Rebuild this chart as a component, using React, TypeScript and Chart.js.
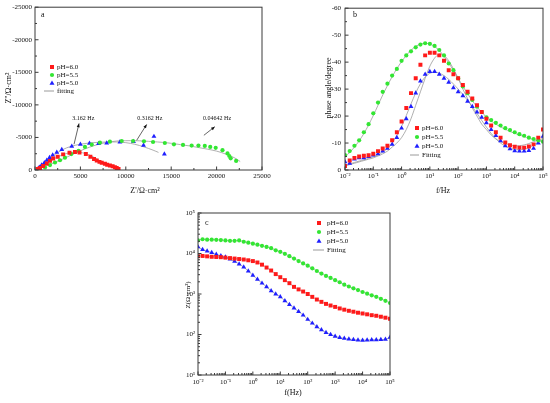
import { useEffect, useRef } from "react";
import { Chart, registerables } from "chart.js";

Chart.register(...registerables);

const SERIF = "'Liberation Serif', 'Times New Roman', serif";
const RED = "#ff1a1a";
const GREEN = "#33e633";
const BLUE = "#1f1fff";
const FIT = "#9a9a9a";

// ---- panel a: Nyquist (Z' , Z'') ----
const A_RED_RE = [300, 550, 900, 1300, 1650, 2000, 2500, 3100, 3800, 4400, 4900, 5600, 6100, 6500, 6800, 7100, 7350, 7700, 7950, 8250, 8550, 8800, 9000, 9200];
const A_RED_IM = [-150, -300, -600, -1000, -1400, -1750, -2050, -2400, -2650, -2750, -2700, -2450, -2050, -1700, -1450, -1250, -1100, -950, -800, -680, -560, -420, -300, -150];
const A_GREEN_RE = [300, 550, 1100, 1650, 2200, 2750, 3300, 4000, 4800, 5500, 6250, 7150, 8250, 9550, 10800, 12000, 13000, 14300, 15300, 16300, 17250, 18000, 18700, 19300, 19900, 20650, 21200, 21400, 21550, 22150];
const A_GREEN_IM = [-50, -100, -400, -750, -1150, -1500, -1900, -2450, -2950, -3550, -3900, -4200, -4350, -4450, -4450, -4400, -4300, -4150, -3950, -3850, -3750, -3750, -3700, -3550, -3400, -3050, -2550, -2150, -1800, -1400];
const A_BLUE_RE = [250, 470, 730, 1030, 1300, 1600, 1950, 2400, 2950, 4050, 5000, 6000, 7000, 7900, 9350, 10850, 11950, 13100, 14250];
const A_BLUE_IM = [-150, -400, -750, -1100, -1500, -1900, -2300, -2700, -3150, -3650, -3950, -4100, -4050, -4150, -4300, -4350, -3800, -5150, -2450];

const A_FIT_RED_RE = [0, 500, 1000, 1500, 2000, 2500, 3000, 3500, 4000, 4500, 5000, 5500, 6000, 6500, 7000, 7500, 8000, 8500, 9000];
const A_FIT_RED_IM = [0, -400, -850, -1250, -1650, -2000, -2300, -2550, -2700, -2750, -2700, -2550, -2300, -1950, -1550, -1150, -800, -500, -200];
const A_FIT_GREEN_RE = [0, 1000, 2000, 3000, 4000, 5000, 6000, 7000, 8000, 9000, 10000, 11000, 12000, 13000, 14000, 15000, 16000, 17000, 18000, 19000, 20000, 21000, 22000, 22600];
const A_FIT_GREEN_IM = [0, -500, -1050, -1650, -2300, -2950, -3500, -3950, -4250, -4450, -4500, -4500, -4450, -4350, -4250, -4100, -3900, -3700, -3450, -3200, -2900, -2450, -1850, -1300];
const A_FIT_BLUE_RE = [0, 500, 1000, 1500, 2000, 3000, 4000, 5000, 6000, 7000, 8000, 9000, 10000, 11000, 12000, 13000, 13600];
const A_FIT_BLUE_IM = [0, -550, -1100, -1650, -2200, -3100, -3650, -3950, -4150, -4250, -4300, -4300, -4200, -3950, -3550, -3050, -2700];

const A_X_TICKS = [0, 5000, 10000, 15000, 20000, 25000];
const A_Y_TICKS = [-25000, -20000, -15000, -10000, -5000, 0];

const A_NOTES = [
  { text: "3.162 Hz", x: 5320, y: -7900, tail: [4300, -3960], head: [4850, -7150] },
  { text: "0.3162 Hz", x: 12650, y: -7900, tail: [11200, -4570], head: [12300, -7000] },
  { text: "0.04642 Hz", x: 20050, y: -7900, tail: [18600, -5330], head: [19800, -6650] },
];

// ---- panels b and c: Bode, shared frequencies ----
const FREQ = [0.01, 0.01468, 0.02154, 0.03162, 0.04642, 0.06813, 0.1, 0.1468, 0.2154, 0.3162, 0.4642, 0.6813, 1, 1.468, 2.154, 3.162, 4.642, 6.813, 10, 14.68, 21.54, 31.62, 46.42, 68.13, 100, 146.8, 215.4, 316.2, 464.2, 681.3, 1000, 1468, 2154, 3162, 4642, 6813, 10000, 14680, 21540, 31620, 46420, 68130, 100000];

const PHASE_RED = [-1.5, -3.5, -4.5, -5, -5.3, -5.5, -6, -7, -8, -9, -11, -14, -18, -23, -28.5, -34, -39, -42.5, -43.5, -43.5, -42.5, -40.5, -37, -35.5, -34, -31.5, -29, -26.5, -24, -21.5, -19, -16.5, -14, -12, -10.2, -9.2, -8.6, -8.3, -8.3, -8.7, -9.5, -12, -15];
const PHASE_GREEN = [-5.5, -7, -9, -11, -14, -17, -21, -25, -29, -32, -35, -37.5, -40.5, -42.5, -44, -45.5, -46.5, -47, -46.8, -46, -44.5, -42.5, -39.5, -37, -34, -31, -28.5, -26, -23.5, -21.5, -19.5, -18.5, -17.5, -16.5, -15.5, -14.8, -14, -13.3, -12.7, -12, -11.5, -11, -10.5];
const PHASE_BLUE = [-3, -2.5, -4, -4.5, -4.5, -5, -5.5, -6, -7, -8, -9.5, -12, -15.5, -19, -23.5, -28.5, -33, -35.5, -36.5, -36.5, -35.5, -34, -32.5, -30.5, -29, -27.5, -25.5, -23.5, -21.5, -19.5, -17.5, -15, -12.8, -10.8, -9, -7.8, -7.1, -7, -7, -7.2, -8, -10, -12.5];

const PHASE_FIT_RED = [-1.5, -2, -2.5, -3, -3.5, -4, -4.5, -5.2, -6, -7, -8.5, -10, -12, -15, -19, -24, -29, -34, -38.5, -41.5, -43, -42.5, -40.5, -37.5, -34, -30, -26.5, -23, -20, -17, -15, -13, -11.5, -10.5, -9.8, -9.3, -9, -9, -9.3, -9.8, -10.5, -11, -11];
const PHASE_FIT_GREEN = [-5, -6.5, -8.5, -10.8, -13.5, -16.7, -20.2, -24, -27.8, -31.3, -34.6, -37.6, -40.2, -42.5, -44.4, -45.8, -46.7, -47, -46.7, -45.8, -44.3, -42.2, -39.7, -36.9, -34, -31.1, -28.3, -25.7, -23.4, -21.4, -19.6, -18.2, -17, -16, -15.1, -14.3, -13.6, -13, -12.4, -11.8, -11.3, -10.8, -10.3];
const PHASE_FIT_BLUE = [-1.5, -2.2, -2.8, -3.3, -3.8, -4.3, -4.9, -5.6, -6.6, -8, -10, -12.8, -16.2, -20.2, -24.5, -28.6, -32, -34.5, -35.9, -36.3, -35.9, -35, -33.6, -31.9, -30, -28, -25.8, -23.5, -21, -18.4, -15.9, -13.6, -11.6, -10, -8.8, -8, -7.6, -7.5, -7.7, -8.3, -9.2, -10.5, -12];

const MOD_RED = [8600, 8700, 8500, 8300, 8200, 8100, 7900, 7700, 7500, 7300, 7100, 6800, 6500, 6000, 5300, 4500, 3800, 3100, 2600, 2200, 1850, 1500, 1300, 1150, 1000, 850, 730, 640, 570, 520, 480, 440, 410, 385, 365, 345, 330, 315, 300, 290, 275, 260, 245];
const MOD_GREEN = [21000, 22500, 22000, 22000, 21800, 21500, 21000, 20500, 20500, 21000, 19500, 18500, 17500, 16500, 15500, 14500, 13500, 12000, 11000, 9800, 8600, 7500, 6500, 5700, 5000, 4300, 3700, 3200, 2800, 2500, 2200, 1950, 1700, 1530, 1380, 1250, 1120, 1020, 930, 850, 760, 680, 600];
const MOD_BLUE = [14500, 12500, 11500, 10500, 9500, 8800, 8200, 7300, 6400, 5500, 4600, 3700, 2900, 2300, 1850, 1500, 1200, 1000, 850, 680, 550, 450, 370, 300, 235, 190, 155, 130, 112, 100, 90, 84, 80, 77, 75, 73, 72, 73, 74, 74, 75, 76, 85];

const LOG_F_TICKS = [0.01, 0.1, 1, 10, 100, 1000, 10000, 100000];
const PHASE_TICKS = [-60, -50, -40, -30, -20, -10, 0];
const MOD_TICKS = [10, 100, 1000, 10000, 100000];

const SUP: Record<string, string> = { "-": "⁻", "0": "⁰", "1": "¹", "2": "²", "3": "³", "4": "⁴", "5": "⁵" };
const pow10 = (v: number) => "10" + String(Math.round(Math.log10(v))).split("").map((c) => SUP[c]).join("");

const logMinor = (lo: number, hi: number) => {
  const out: number[] = [];
  for (let d = lo; d < hi; d++) for (let k = 2; k <= 9; k++) out.push(k * Math.pow(10, d));
  return out;
};
const pairs = (xs: number[], ys: number[]) => xs.map((x, i) => ({ x, y: ys[i] }));

type Shape = "rect" | "circle" | "triangle" | "line";
interface Item { label: string; color: string; shape: Shape }
interface Txt { t: string; x: number; y: number; size: number; rotate?: boolean; align?: CanvasTextAlign }
interface Deco {
  xMinor: number[];
  yMinor: number[];
  texts: Txt[];
  legend: { mx: number; tx: number; y0: number; gap: number; line: [number, number] };
  items: Item[];
  notes?: typeof A_NOTES;
}

function marker(ctx: CanvasRenderingContext2D, shape: Shape, color: string, x: number, y: number) {
  ctx.fillStyle = color;
  ctx.beginPath();
  if (shape === "rect") ctx.rect(x - 2, y - 2, 4, 4);
  else if (shape === "circle") ctx.arc(x, y, 2.1, 0, Math.PI * 2);
  else {
    ctx.moveTo(x, y - 2.6);
    ctx.lineTo(x + 2.5, y + 1.7);
    ctx.lineTo(x - 2.5, y + 1.7);
    ctx.closePath();
  }
  ctx.fill();
}

function decoPlugin(d: Deco) {
  return {
    id: "deco",
    afterDraw(chart: any) {
      const { ctx, chartArea: a, scales } = chart;
      const xs = scales.x;
      const ys = scales.y;
      ctx.save();
      ctx.strokeStyle = "#3a3a3a";
      ctx.lineWidth = 1;
      ctx.strokeRect(a.left, a.top, a.right - a.left, a.bottom - a.top);

      // inward ticks, bottom and left
      ctx.beginPath();
      const tx = (v: number, len: number) => {
        const p = xs.getPixelForValue(v);
        ctx.moveTo(p, a.bottom);
        ctx.lineTo(p, a.bottom - len);
      };
      const ty = (v: number, len: number) => {
        const p = ys.getPixelForValue(v);
        ctx.moveTo(a.left, p);
        ctx.lineTo(a.left + len, p);
      };
      xs.ticks.forEach((t: any) => tx(t.value, 3.5));
      ys.ticks.forEach((t: any) => ty(t.value, 3.5));
      d.xMinor.forEach((v) => tx(v, 2));
      d.yMinor.forEach((v) => ty(v, 2));
      ctx.stroke();

      ctx.fillStyle = "#111";
      ctx.textBaseline = "middle";
      d.texts.forEach((s) => {
        ctx.font = `${s.size}px ${SERIF}`;
        ctx.textAlign = s.align ?? "center";
        if (s.rotate) {
          ctx.save();
          ctx.translate(s.x, s.y);
          ctx.rotate(-Math.PI / 2);
          ctx.fillText(s.t, 0, 0);
          ctx.restore();
        } else ctx.fillText(s.t, s.x, s.y);
      });

      // legend
      const L = d.legend;
      d.items.forEach((it, i) => {
        const y = L.y0 + i * L.gap;
        if (it.shape === "line") {
          ctx.strokeStyle = FIT;
          ctx.beginPath();
          ctx.moveTo(L.line[0], y);
          ctx.lineTo(L.line[1], y);
          ctx.stroke();
        } else marker(ctx, it.shape, it.color, L.mx, y);
        ctx.fillStyle = "#111";
        ctx.font = `7px ${SERIF}`;
        ctx.textAlign = "left";
        ctx.fillText(it.label, L.tx, y);
      });

      // annotations with arrows
      (d.notes ?? []).forEach((n) => {
        ctx.font = `6px ${SERIF}`;
        ctx.textAlign = "center";
        ctx.fillStyle = "#111";
        ctx.fillText(n.text, xs.getPixelForValue(n.x), ys.getPixelForValue(n.y));
        const x1 = xs.getPixelForValue(n.tail[0]);
        const y1 = ys.getPixelForValue(n.tail[1]);
        const x2 = xs.getPixelForValue(n.head[0]);
        const y2 = ys.getPixelForValue(n.head[1]);
        const ang = Math.atan2(y2 - y1, x2 - x1);
        ctx.strokeStyle = "#222";
        ctx.lineWidth = 0.7;
        ctx.beginPath();
        ctx.moveTo(x1, y1);
        ctx.lineTo(x2, y2);
        ctx.stroke();
        ctx.fillStyle = "#111";
        ctx.beginPath();
        ctx.moveTo(x2, y2);
        ctx.lineTo(x2 - 4 * Math.cos(ang - 0.4), y2 - 4 * Math.sin(ang - 0.4));
        ctx.lineTo(x2 - 4 * Math.cos(ang + 0.4), y2 - 4 * Math.sin(ang + 0.4));
        ctx.closePath();
        ctx.fill();
      });
      ctx.restore();
    },
  };
}

function axis(type: string, min: number, max: number, major: number[], fmt: (v: number) => string, size: number, horizontal: boolean, pad: number, reverse = false) {
  return {
    type,
    min,
    max,
    reverse,
    afterBuildTicks: (s: any) => {
      s.ticks = major.map((value) => ({ value }));
    },
    afterFit: (s: any) => {
      if (horizontal) s.height = size;
      else s.width = size;
    },
    ticks: {
      autoSkip: false,
      maxRotation: 0,
      padding: pad,
      color: "#111",
      font: { family: SERIF, size: 7 },
      callback: (v: any) => fmt(Number(v)),
    },
    grid: { display: false, drawTicks: false },
    border: { display: false },
  };
}

const pts = (label: string, data: any[], color: string, style: string, r: number) => ({
  label,
  data,
  pointStyle: style,
  pointRadius: r,
  pointBorderWidth: 0,
  backgroundColor: color,
  borderColor: color,
  showLine: false,
  order: 0,
});
const fit = (data: any[]) => ({
  label: "fit",
  data,
  showLine: true,
  pointRadius: 0,
  borderColor: FIT,
  borderWidth: 0.8,
  tension: 0.3,
  order: 1,
});

const LEGEND_ITEMS = (fitting: string): Item[] => [
  { label: "pH=6.0", color: RED, shape: "rect" },
  { label: "pH=5.5", color: GREEN, shape: "circle" },
  { label: "pH=5.0", color: BLUE, shape: "triangle" },
  { label: fitting, color: FIT, shape: "line" },
];

function base(padding: any, datasets: any[], x: any, y: any, deco: Deco) {
  return {
    type: "scatter",
    data: { datasets },
    options: {
      responsive: false,
      animation: false,
      layout: { padding },
      plugins: { legend: { display: false }, tooltip: { enabled: false } },
      scales: { x, y },
    },
    plugins: [decoPlugin(deco)],
  };
}

function configA() {
  const byF = (v: number) => String(v);
  return base(
    { left: 0, right: 13, top: 6, bottom: 0 },
    [
      pts("pH=6.0", pairs(A_RED_RE, A_RED_IM), RED, "rect", 2.8),
      pts("pH=5.5", pairs(A_GREEN_RE, A_GREEN_IM), GREEN, "circle", 2.1),
      pts("pH=5.0", pairs(A_BLUE_RE, A_BLUE_IM), BLUE, "triangle", 2.8),
      fit(pairs(A_FIT_RED_RE, A_FIT_RED_IM)),
      fit(pairs(A_FIT_GREEN_RE, A_FIT_GREEN_IM)),
      fit(pairs(A_FIT_BLUE_RE, A_FIT_BLUE_IM)),
    ],
    axis("linear", 0, 25000, A_X_TICKS, byF, 30, true, 2),
    axis("linear", -25000, 0, A_Y_TICKS, byF, 35, false, 3, true),
    {
      xMinor: [2500, 7500, 12500, 17500, 22500],
      yMinor: [-22500, -17500, -12500, -7500, -2500],
      texts: [
        { t: "Z'/Ω·cm²", x: 145, y: 191, size: 8 },
        { t: "Z''/Ω·cm²", x: 9, y: 88, size: 8, rotate: true },
        { t: "a", x: 41, y: 15, size: 8, align: "left" },
      ],
      legend: { mx: 52, tx: 57, y0: 67, gap: 8, line: [44, 54] },
      items: LEGEND_ITEMS("fitting"),
      notes: A_NOTES,
    }
  );
}

function configB() {
  return base(
    { left: 0, right: 7, top: 6, bottom: 0 },
    [
      pts("pH=6.0", pairs(FREQ, PHASE_RED), RED, "rect", 2.8),
      pts("pH=5.5", pairs(FREQ, PHASE_GREEN), GREEN, "circle", 2.1),
      pts("pH=5.0", pairs(FREQ, PHASE_BLUE), BLUE, "triangle", 2.8),
      fit(pairs(FREQ, PHASE_FIT_RED)),
      fit(pairs(FREQ, PHASE_FIT_GREEN)),
      fit(pairs(FREQ, PHASE_FIT_BLUE)),
    ],
    axis("logarithmic", 0.01, 100000, LOG_F_TICKS, pow10, 30, true, 2),
    axis("linear", -60, 0, PHASE_TICKS, (v) => String(v), 70, false, 4, true),
    {
      xMinor: logMinor(-2, 5),
      yMinor: [-55, -45, -35, -25, -15, -5],
      texts: [
        { t: "f/Hz", x: 168, y: 191, size: 8 },
        { t: "phase angle/degree", x: 54, y: 88, size: 8, rotate: true },
        { t: "b", x: 78, y: 15, size: 8, align: "left" },
      ],
      legend: { mx: 142, tx: 147, y0: 128, gap: 9, line: [135, 144] },
      items: LEGEND_ITEMS("Fitting"),
    }
  );
}

function configC() {
  return base(
    { left: 0, right: 30, top: 13, bottom: 0 },
    [
      pts("pH=6.0", pairs(FREQ, MOD_RED), RED, "rect", 2.8),
      pts("pH=5.5", pairs(FREQ, MOD_GREEN), GREEN, "circle", 2.1),
      pts("pH=5.0", pairs(FREQ, MOD_BLUE), BLUE, "triangle", 2.8),
      fit(pairs(FREQ, MOD_RED)),
      fit(pairs(FREQ, MOD_GREEN)),
      fit(pairs(FREQ, MOD_BLUE)),
    ],
    axis("logarithmic", 0.01, 100000, LOG_F_TICKS, pow10, 28, true, 3),
    axis("logarithmic", 10, 100000, MOD_TICKS, pow10, 68, false, 3),
    {
      xMinor: logMinor(-2, 5),
      yMinor: logMinor(1, 5),
      texts: [
        { t: "f(Hz)", x: 163, y: 193, size: 8 },
        { t: "Z(Ω·cm²)", x: 58, y: 95, size: 7, rotate: true },
        { t: "c", x: 75, y: 23, size: 8, align: "left" },
      ],
      legend: { mx: 189, tx: 197, y0: 23, gap: 9, line: [183, 194] },
      items: LEGEND_ITEMS("Fitting"),
    }
  );
}

function Panel({ left, top, width, height, make }: { left: number; top: number; width: number; height: number; make: () => any }) {
  const ref = useRef<HTMLCanvasElement>(null);
  useEffect(() => {
    if (!ref.current) return;
    const chart = new Chart(ref.current, make());
    return () => chart.destroy();
  }, [make]);
  return <canvas ref={ref} width={width} height={height} style={{ position: "absolute", left, top, width, height }} />;
}

export default function App() {
  return (
    <div style={{ position: "absolute", left: 0, top: 0, width: 550, height: 403, background: "#fff" }}>
      <Panel left={0} top={0} width={275} height={200} make={configA} />
      <Panel left={275} top={0} width={275} height={200} make={configB} />
      <Panel left={130} top={200} width={290} height={203} make={configC} />
    </div>
  );
}
